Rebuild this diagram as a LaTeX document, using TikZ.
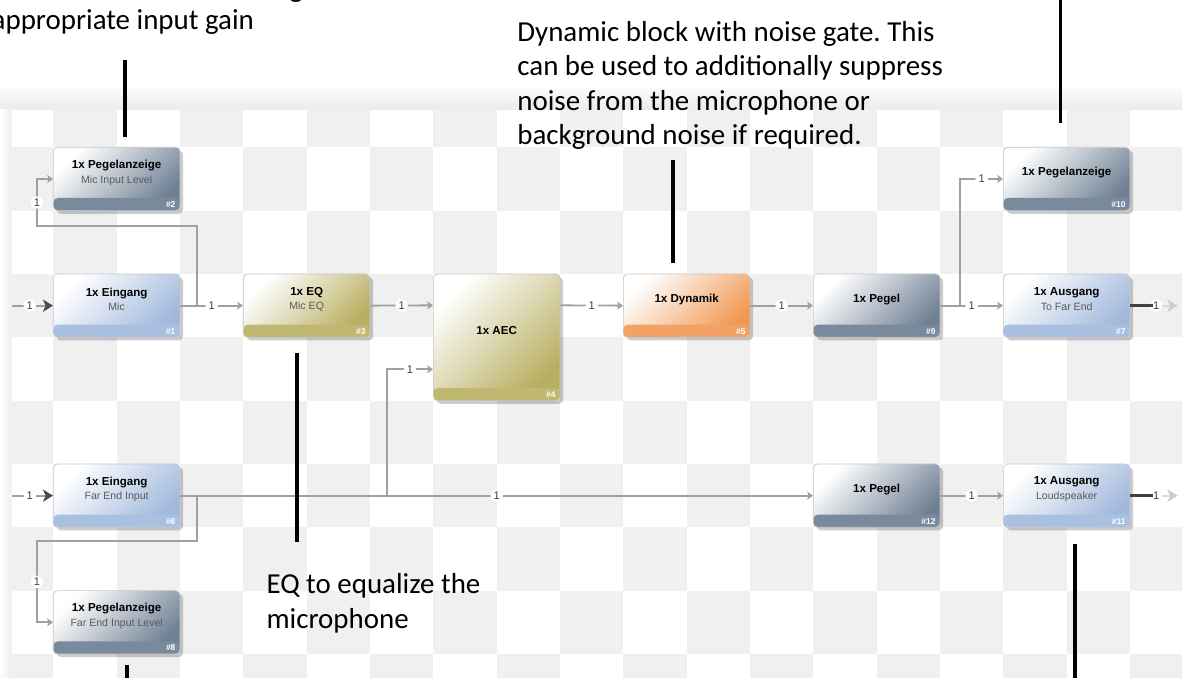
\documentclass[tikz,border=0pt]{standalone}
\usepackage{fontspec}
\setmainfont{Carlito}
\newfontfamily\uifont{Liberation Sans}
\usetikzlibrary{calc, positioning, arrows.meta, shadows}
\frenchspacing

\definecolor{slate}{RGB}{111,128,148}
\definecolor{slateband}{RGB}{122,138,157}
\definecolor{paleblue}{RGB}{160,184,220}
\definecolor{paleblueband}{RGB}{170,192,224}
\definecolor{olive}{RGB}{184,174,96}
\definecolor{oliveband}{RGB}{192,184,112}
\definecolor{apricot}{RGB}{240,152,82}
\definecolor{apricotband}{RGB}{242,162,100}
\definecolor{wiregray}{RGB}{160,160,160}
\definecolor{checker}{RGB}{240,240,240}

\newcommand\subline[1]{{\mdseries\fontsize{4.75}{6.6}\selectfont\color{black!65}#1}}

\tikzset{
  dspbox/.style={rounded corners=2pt, minimum width=2cm, minimum height=1cm,
    inner sep=0pt, draw=black!22, line width=0.3pt,
    left color=white, right color=#1, shading angle=45,
    drop shadow={shadow xshift=0.05cm, shadow yshift=-0.05cm, opacity=0.2, fill=black},
    path picture={\fill[#1band] (path picture bounding box.south west)
      rectangle ([yshift=0.2cm]path picture bounding box.south east);}},
  blocktext/.style={align=center, inner sep=0pt,
    font=\uifont\bfseries\fontsize{5.2}{6.6}\selectfont},
  blockno/.style={anchor=east, inner sep=0pt, text=white,
    font=\uifont\bfseries\fontsize{3.8}{4}\selectfont},
  wire/.style={draw=wiregray, line width=0.8pt,
    -{Stealth[length=2.6pt, width=3.6pt, inset=0.6pt]}},
  chan/.style={circle, fill=white, inner sep=0.4pt, text=black!75,
    font=\uifont\fontsize{5}{5}\selectfont},
  feed/.style={draw=wiregray, line width=0.8pt,
    -{Stealth[length=4.5pt, width=5.5pt, inset=1.2pt, color=black!70]}},
  sink/.style={draw=black!15, line width=0.8pt,
    -{Stealth[length=4.5pt, width=5.5pt, inset=1.2pt, color=black!20]}},
  stub/.style={draw=black!75, line width=1.3pt},
  pointer/.style={draw=black, line width=1.6pt},
  note/.style={align=left, inner sep=0pt, font=\fontsize{13}{15.5}\selectfont}
}

% name, centre, colour, height, text, number
\newcommand\dspblock[6]{%
  \node[dspbox=#3, minimum height=#4] (#1) at (#2) {};
  \node[blocktext] at ([yshift=1mm]#1.center) {#5};
  \node[blockno] at ([xshift=-0.7mm, yshift=1mm]#1.south east) {\##6};
}

\begin{document}
\begin{tikzpicture}
  \useasboundingbox (0.158,-9.379) rectangle (18.821,1.326);
  \fill[white] (0.158,-9.379) rectangle (18.821,1.326);

  % Board shadow
  \shade[top color=white, bottom color=black!8] (0.158,0) rectangle (18.821,-0.41);
  \shade[left color=white, right color=black!7] (0.158,-0.41) rectangle (0.347,-9.379);

  % Checker board
  \begin{scope}
    \clip (0.347,-0.41) rectangle (18.821,-9.379);
    \foreach \c in {0,...,18}
      \foreach \r in {0,...,9}
        {\ifodd\numexpr\c+\r\relax \fill[checker] (\c,-\r) rectangle ++(1,-1);\fi}
  \end{scope}

  % Blocks
  \dspblock{micmeter}{2,-1.5}{slate}{1cm}{1x Pegelanzeige\\\subline{Mic Input Level}}{2}
  \dspblock{mic}{2,-3.5}{paleblue}{1cm}{1x Eingang\\\subline{Mic}}{1}
  \dspblock{miceq}{5,-3.5}{olive}{1cm}{1x EQ\\\subline{Mic EQ}}{3}
  \dspblock{aec}{8,-4}{olive}{2cm}{1x AEC}{4}
  \dspblock{dyn}{11,-3.5}{apricot}{1cm}{1x Dynamik}{5}
  \dspblock{micpegel}{14,-3.5}{slate}{1cm}{1x Pegel}{9}
  \dspblock{outmeter}{17,-1.5}{slate}{1cm}{1x Pegelanzeige}{10}
  \dspblock{tofar}{17,-3.5}{paleblue}{1cm}{1x Ausgang\\\subline{To Far End}}{7}
  \dspblock{farin}{2,-6.5}{paleblue}{1cm}{1x Eingang\\\subline{Far End Input}}{6}
  \dspblock{farmeter}{2,-8.5}{slate}{1cm}{1x Pegelanzeige\\\subline{Far End Input Level}}{8}
  \dspblock{farpegel}{14,-6.5}{slate}{1cm}{1x Pegel}{12}
  \dspblock{speaker}{17,-6.5}{paleblue}{1cm}{1x Ausgang\\\subline{Loudspeaker}}{11}

  % Microphone chain
  \coordinate (micsrc) at (0.35,-3.5);
  \coordinate (micsplit) at (3.27,-3.5);
  \draw[feed] (micsrc) -- node[chan, pos=0.43] {1} (mic.west);
  \draw[wire] (mic.east) -- node[chan] {1} (miceq.west);
  \draw[wire] (micsplit) |- (0.74,-2.24) |- node[chan, pos=0.25] {1} (micmeter.west);
  \draw[wire] (miceq.east) -- node[chan] {1} ($(aec.north west)+(0,-0.5)$);
  \draw[wire] ($(aec.north east)+(0,-0.5)$) -- node[chan] {1} (dyn.west);
  \draw[wire] (dyn.east) -- node[chan] {1} (micpegel.west);
  \coordinate (pegelsplit) at (15.32,-3.5);
  \draw[wire] (micpegel.east) -- node[chan] {1} (tofar.west);
  \draw[wire] (pegelsplit) |- node[chan, pos=0.75] {1} (outmeter.west);

  % Far end chain
  \coordinate (farsrc) at (0.35,-6.5);
  \coordinate (farsplit) at (3.27,-6.5);
  \coordinate (refsplit) at (6.27,-6.5);
  \draw[feed] (farsrc) -- node[chan, pos=0.43] {1} (farin.west);
  \draw[wire] (farin.east) -- node[chan] {1} (farpegel.west);
  \draw[wire] (farsplit) |- (0.74,-7.22) |- node[chan, pos=0.25] {1} (farmeter.west);
  \draw[wire] (refsplit) |- node[chan, pos=0.75] {1} ($(aec.south west)+(0,0.5)$);
  \draw[wire] (farpegel.east) -- node[chan] {1} (speaker.west);

  % Outputs
  \coordinate (tofarsink) at (18.75,-3.5);
  \coordinate (speakersink) at (18.75,-6.5);
  \draw[sink] (tofar.east) -- node[chan, pos=0.55] {1} (tofarsink);
  \draw[stub] (tofar.east) -- ++(0.35,0);
  \draw[sink] (speaker.east) -- node[chan, pos=0.55] {1} (speakersink);
  \draw[stub] (speaker.east) -- ++(0.35,0);

  % Notes
  \node[note, anchor=base west] (cutnote) at (4.72,1.366) {g};
  \node[note, anchor=base west] (gainnote) at (0.02,0.857) {appropriate input gain};
  \node[note, anchor=west] (dynnote) at (8.32,-0.02)
    {Dynamic block with noise gate. This\\can be used to additionally suppress\\noise from the microphone or\\background noise if required.};
  \node[note, anchor=west] (eqnote) at (4.36,-8.2) {EQ to equalize the\\microphone};

  % Pointers
  \draw[pointer] ([xshift=1.3mm, yshift=1.6mm]micmeter.north) -- ++(0,1.22);
  \draw[pointer] ([xshift=-2.2mm, yshift=1.7mm]dyn.north) -- ++(0,1.63);
  \draw[pointer] ([xshift=-1mm, yshift=3.8mm]outmeter.north) -- ++(0,2.1);
  \draw[pointer] ([xshift=-1.5mm, yshift=-2.5mm]miceq.south) -- ++(0,-2.98);
  \draw[pointer] ([xshift=1.6mm, yshift=-1.7mm]farmeter.south) -- ++(0,-0.5);
  \draw[pointer] ([xshift=1.3mm, yshift=-2.6mm]speaker.south) -- ++(0,-2.6);
\end{tikzpicture}
\end{document}
